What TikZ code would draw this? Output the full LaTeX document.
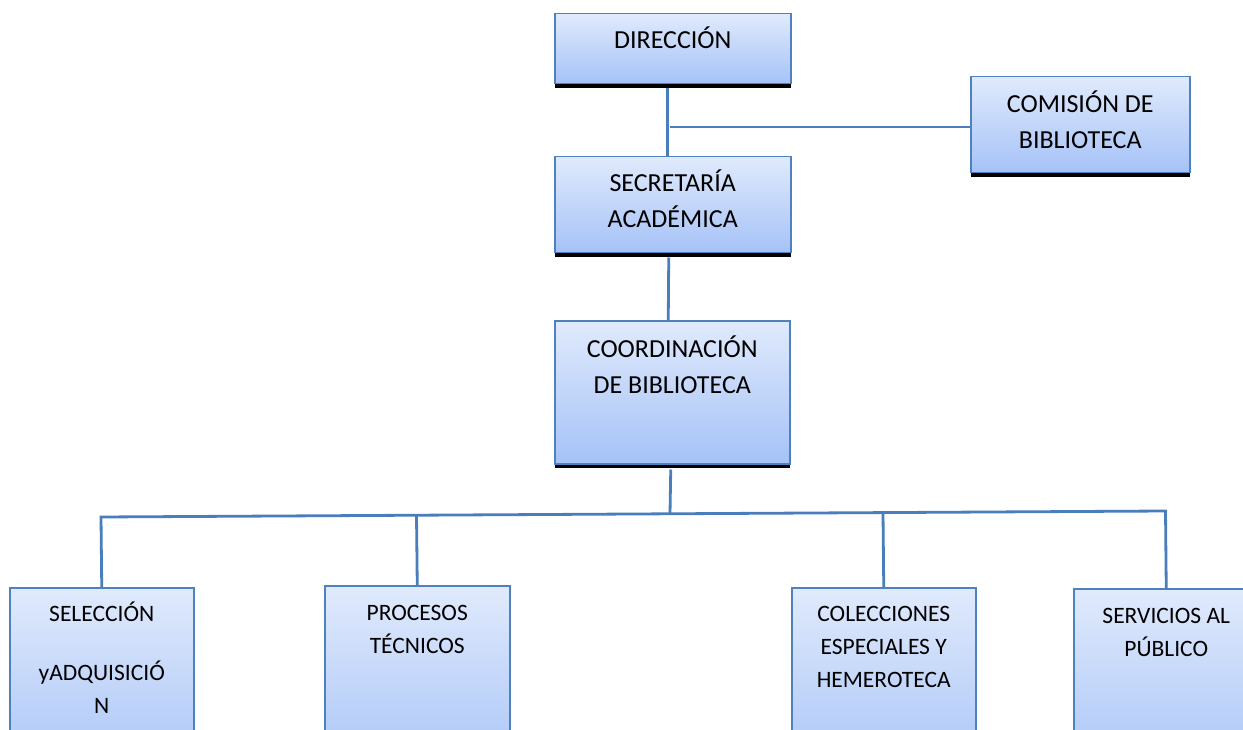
\documentclass[tikz,border=0pt]{standalone}
\usepackage{fontspec}
\setmainfont{Carlito}
\usetikzlibrary{shadows}
\definecolor{borde}{RGB}{79,129,189}
\definecolor{linea}{RGB}{74,126,187}
\definecolor{claro}{RGB}{224,234,252}
\definecolor{oscuro}{RGB}{165,194,247}

\begin{document}
\begin{tikzpicture}[x=1pt,y=-1pt]
\tikzstyle{caja}=[rectangle, anchor=north west, inner sep=0pt, draw=borde, line width=1.5pt, top color=claro, bottom color=oscuro, drop shadow={opacity=1, fill=black, shadow xshift=0pt, shadow yshift=-4pt}]
\tikzstyle{texto}=[anchor=base, align=center, inner sep=0pt, font=\fontsize{26}{36}\selectfont]
\tikzstyle{textochico}=[texto, font=\fontsize{23.5}{33}\selectfont]
\tikzstyle{rama}=[draw=linea, line width=2.8pt, line join=miter]
\useasboundingbox (0,0) rectangle (1243,730);
\clip (0,0) rectangle (1243,730);
% cajas
\draw (554,13) node (dir) [caja, minimum width=236pt, minimum height=70pt] {};
\draw (970,76) node (com) [caja, minimum width=219pt, minimum height=96pt] {};
\draw (554,156) node (sec) [caja, minimum width=236pt, minimum height=96pt] {};
\draw (554,320) node (coo) [caja, minimum width=235pt, minimum height=143pt] {};
\draw (9,587) node (sel) [caja, minimum width=184pt, minimum height=200pt] {};
\draw (324,585) node (pro) [caja, minimum width=185pt, minimum height=200pt] {};
\draw (791,587) node (col) [caja, minimum width=184pt, minimum height=200pt] {};
\draw (1073,588) node (ser) [caja, minimum width=185pt, minimum height=200pt] {};
% textos (base = ultima linea)
\node (dirT) [texto] at ([yshift=-36pt]dir.north) {DIRECCIÓN};
\node (comT) [texto] at ([yshift=-73pt]com.north) {COMISIÓN DE\\BIBLIOTECA};
\node (secT) [texto] at ([yshift=-72pt]sec.north) {SECRETARÍA\\ACADÉMICA};
\node (cooT) [texto] at ([yshift=-73pt]coo.north) {COORDINACIÓN\\DE BIBLIOTECA};
\node (selT) [textochico] at ([yshift=-126pt]sel.north) {SELECCIÓN\\[26pt]yADQUISICIÓ\\N};
\node (proT) [textochico] at ([yshift=-68pt]pro.north) {PROCESOS\\TÉCNICOS};
\node (colT) [textochico] at ([yshift=-100pt]col.north) {COLECCIONES\\ESPECIALES Y\\HEMEROTECA};
\node (serT) [textochico] at ([yshift=-68pt]ser.north) {SERVICIOS AL\\PÚBLICO};
% ramas
\coordinate (r1) at (670,127);
\coordinate (t0) at (670,513.8);
\coordinate (t1) at (101,517);
\coordinate (t2) at (416.5,515.2);
\coordinate (t3) at (883,512.6);
\coordinate (t4) at (1165.5,511);
\draw[rama] ([xshift=-5pt,yshift=-4pt]dir.south) -- ([xshift=-5pt]sec.north);
\draw[rama] (r1) -- (r1 -| com.west);
\draw[rama] ([xshift=-4pt,yshift=-4pt]sec.south) -- ([xshift=-4pt]coo.north);
\draw[rama] ([xshift=-1.5pt,yshift=-5pt]coo.south) -- (t0);
\draw[rama] (sel.north) -- (t1) -- (t4) -- (ser.north);
\draw[rama] (t2) -- (pro.north);
\draw[rama] (t3) -- (col.north);
\end{tikzpicture}
\end{document}
